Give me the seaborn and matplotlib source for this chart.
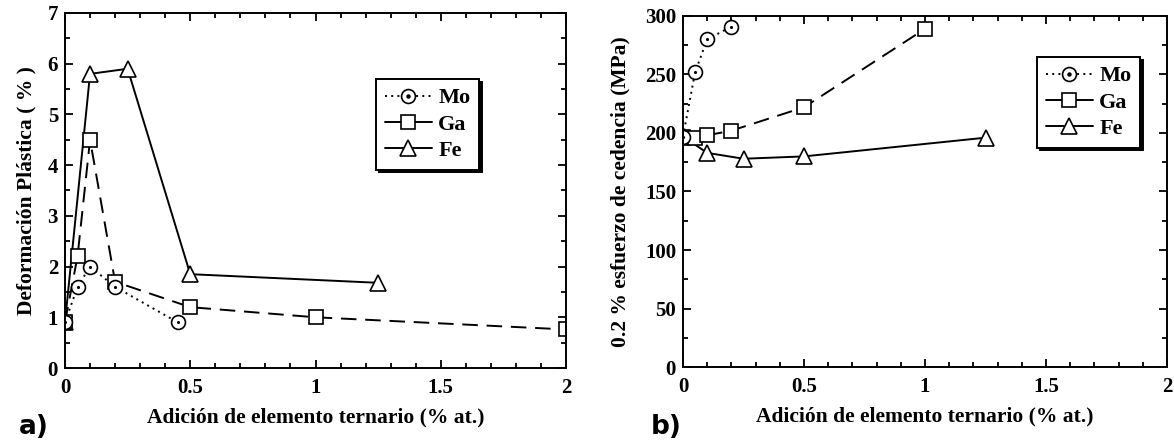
import matplotlib
matplotlib.use("Agg")
import matplotlib.pyplot as plt
from matplotlib.lines import Line2D
from matplotlib.ticker import MultipleLocator
import seaborn as sns

# ---------------- data ----------------
# panel a) plastic deformation (%)
a_mo_x = [0, 0.05, 0.1, 0.2, 0.45]
a_mo_y = [0.9, 1.6, 2.0, 1.6, 0.9]
a_ga_x = [0, 0.05, 0.1, 0.2, 0.5, 1.0, 2.0]
a_ga_y = [0.9, 2.2, 4.5, 1.7, 1.2, 1.0, 0.76]
a_fe_x = [0, 0.1, 0.25, 0.5, 1.25]
a_fe_y = [0.9, 5.8, 5.9, 1.85, 1.68]

# panel b) 0.2 % yield stress (MPa)
b_mo_x = [0, 0.05, 0.1, 0.2]
b_mo_y = [197, 252, 280, 291]
b_ga_x = [0, 0.05, 0.1, 0.2, 0.5, 1.0]
b_ga_y = [197, 196, 198, 202, 222, 289]
b_fe_x = [0, 0.1, 0.25, 0.5, 1.25]
b_fe_y = [197, 183, 178, 180, 196]

series_names = ["Mo", "Ga", "Fe"]
xtick_labels = ["0", "0.5", "1", "1.5", "2"]
xlabel = "Adición de elemento ternario (% at.)"
ylabel_a = "Deformación Plástica ( % )"
ylabel_b = "0.2 % esfuerzo de cedencia (MPa)"

# ---------------- style ----------------
sns.set_theme(style="ticks")
plt.rcParams["font.family"] = ["Liberation Serif", "DejaVu Serif"]
plt.rcParams["font.weight"] = "bold"
plt.rcParams["axes.labelweight"] = "bold"
plt.rcParams["axes.linewidth"] = 1.4
plt.rcParams["text.color"] = "black"
plt.rcParams["axes.labelcolor"] = "black"
plt.rcParams["xtick.color"] = "black"
plt.rcParams["ytick.color"] = "black"

fig = plt.figure(figsize=(11.74, 4.44), dpi=100)
W, H = 1174, 444
ax1 = fig.add_axes([65 / W, 1 - 368 / H, (566 - 65) / W, (368 - 13) / H])
ax2 = fig.add_axes([683 / W, 1 - 367 / H, (1167 - 683) / W, (367 - 16) / H])

LW = 1.4
DOT = (0, (1, 2.2))
DASH = (0, (8, 4.5))
mk = dict(markerfacecolor="white", markeredgecolor="black", markeredgewidth=1.2)


def draw(ax, mo_x, mo_y, ga_x, ga_y, fe_x, fe_y):
    sns.lineplot(x=fe_x, y=fe_y, ax=ax, color="black", linewidth=LW, linestyle="-",
                 marker="^", markersize=11, sort=False, estimator=None, legend=False, **mk)
    sns.lineplot(x=ga_x, y=ga_y, ax=ax, color="black", linewidth=LW, linestyle=DASH,
                 marker="s", markersize=10, sort=False, estimator=None, legend=False, **mk)
    sns.lineplot(x=mo_x, y=mo_y, ax=ax, color="black", linewidth=LW, linestyle=DOT,
                 marker="o", markersize=10, sort=False, estimator=None, legend=False, **mk)
    sns.scatterplot(x=mo_x, y=mo_y, ax=ax, color="black", s=5, marker="o",
                    linewidth=0, legend=False, zorder=5)


draw(ax1, a_mo_x, a_mo_y, a_ga_x, a_ga_y, a_fe_x, a_fe_y)
draw(ax2, b_mo_x, b_mo_y, b_ga_x, b_ga_y, b_fe_x, b_fe_y)

ax1.set_xlim(0, 2)
ax1.set_ylim(0, 7)
ax1.set_xticks([0, 0.5, 1, 1.5, 2], xtick_labels)
ax1.xaxis.set_minor_locator(MultipleLocator(0.1))
ax1.yaxis.set_major_locator(MultipleLocator(1))
ax1.yaxis.set_minor_locator(MultipleLocator(0.5))

ax2.set_xlim(0, 2)
ax2.set_ylim(0, 300)
ax2.set_xticks([0, 0.5, 1, 1.5, 2], xtick_labels)
ax2.xaxis.set_minor_locator(MultipleLocator(0.1))
ax2.yaxis.set_major_locator(MultipleLocator(50))
ax2.yaxis.set_minor_locator(MultipleLocator(25))

for ax in (ax1, ax2):
    ax.tick_params(which="both", direction="in", top=True, right=True,
                   width=1.3, colors="black", labelsize=15)
    ax.tick_params(which="major", length=6)
    ax.tick_params(which="minor", length=3.5)
    ax.tick_params(axis="x", pad=7)
    ax.tick_params(axis="y", pad=5)
    for t in ax.get_xticklabels() + ax.get_yticklabels():
        t.set_fontweight("bold")
    for s in ax.spines.values():
        s.set_color("black")
        s.set_linewidth(1.4)

ax1.set_xlabel(xlabel, fontsize=15.5, fontweight="bold", labelpad=7)
ax1.set_ylabel(ylabel_a, fontsize=15.5, fontweight="bold", labelpad=8)
ax2.set_xlabel(xlabel, fontsize=15.5, fontweight="bold", labelpad=7)
ax2.set_ylabel(ylabel_b, fontsize=15.5, fontweight="bold", labelpad=10)


def handles():
    mo_line = Line2D([], [], color="black", linewidth=LW, linestyle=DOT,
                     marker="o", markersize=10, **mk)
    mo_dot = Line2D([], [], color="black", linestyle="none", marker="o", markersize=2.2)
    ga = Line2D([], [], color="black", linewidth=LW, linestyle="-",
                marker="s", markersize=10, **mk)
    fe = Line2D([], [], color="black", linewidth=LW, linestyle="-",
                marker="^", markersize=11, **mk)
    return [(mo_line, mo_dot), ga, fe]


for ax, (lx, ly) in ((ax1, (376, 79)), (ax2, (1037, 57))):
    leg = ax.legend(handles(), series_names, loc="upper left",
                    bbox_to_anchor=(lx / W, 1 - ly / H), bbox_transform=fig.transFigure,
                    borderaxespad=0, frameon=True, fancybox=False,
                    shadow={"color": "black", "alpha": 1},
                    prop={"family": "Liberation Serif", "weight": "bold", "size": 16},
                    handlelength=2.1, handletextpad=0.3, labelspacing=0.25,
                    borderpad=0.4)
    leg.get_frame().set_edgecolor("black")
    leg.get_frame().set_linewidth(1.4)

# panel tags
fig.text(19 / W, 1 - 427 / H, "a)", fontsize=19, fontweight="heavy",
         family="DejaVu Sans", va="center", ha="left")
fig.text(651 / W, 1 - 427 / H, "b)", fontsize=19, fontweight="heavy",
         family="DejaVu Sans", va="center", ha="left")

fig.savefig("out.png", dpi=100)
